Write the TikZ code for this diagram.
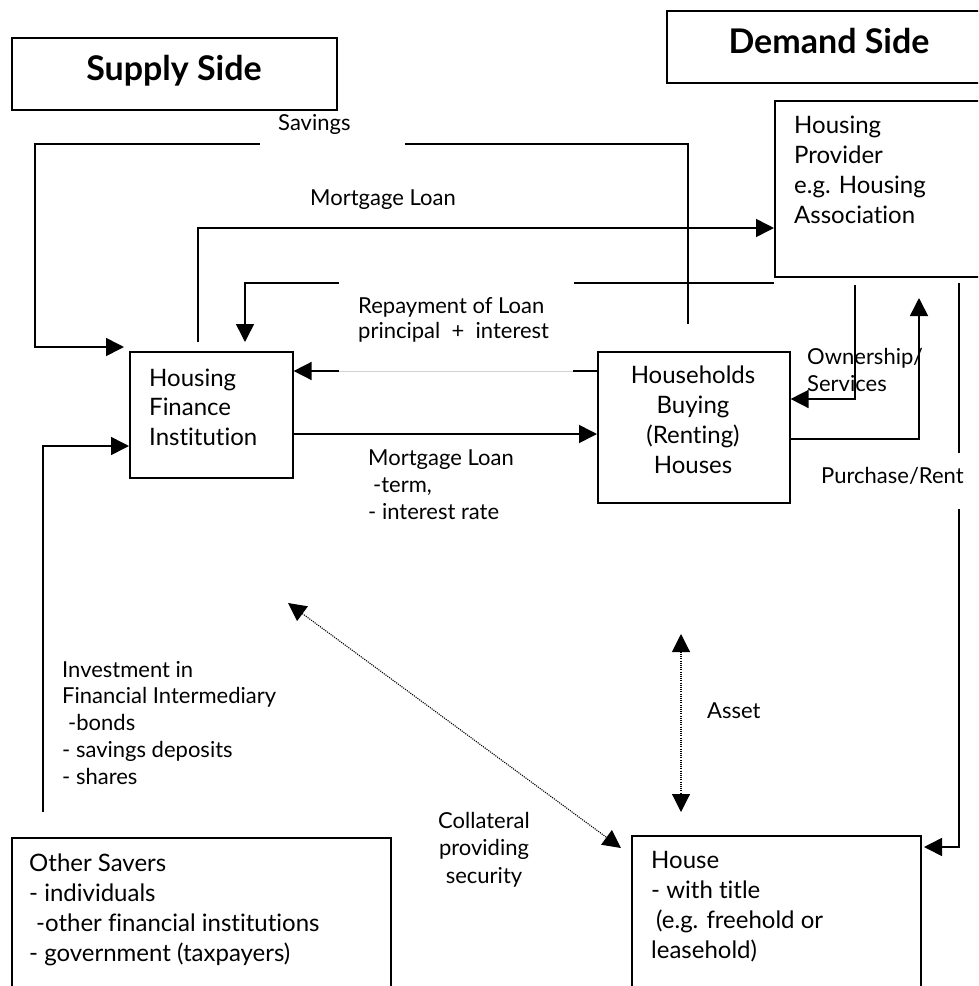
\documentclass[tikz,border=0pt]{standalone}
\usepackage{fontspec}
\setmainfont{Lato}[Ligatures={NoCommon}]
\usetikzlibrary{arrows.meta}
\begin{document}
\begin{tikzpicture}[x=1pt,y=-1pt,
  box/.style={draw, line width=1.6pt, inner sep=0pt, anchor=north west},
  lbl/.style={inner sep=0pt, anchor=base west, align=left, font=\fontsize{22}{26.7}\selectfont},
  btxt/.style={inner sep=0pt, anchor=base west, align=left, font=\fontsize{24}{30}\selectfont},
  head/.style={inner sep=0pt, anchor=base, font=\bfseries\fontsize{34}{40}\selectfont},
  conn/.style={line width=1.6pt},
  tip/.style={-{Triangle[length=18pt,width=18pt]}},
  dots/.style={line width=1.1pt, dash pattern=on 1.1pt off 1.1pt,
     {Triangle[length=18pt,width=18pt]}-{Triangle[length=18pt,width=18pt]}}
]
\useasboundingbox (0,0) rectangle (978,986);
\clip (0,0) rectangle (978,986);
\fill[white] (0,0) rectangle (978,986);

% boxes
\node[box, minimum width=325pt, minimum height=72pt] (sup) at (11,37) {};
\node[box, minimum width=330pt, minimum height=72pt] (dem) at (666,10) {};
\node[box, minimum width=230pt, minimum height=176pt] (hp) at (774,100) {};
\node[box, minimum width=163pt, minimum height=126pt] (hfi) at (129,351) {};
\node[box, minimum width=192pt, minimum height=151pt] (hh) at (597,351) {};
\node[box, minimum width=379pt, minimum height=180pt] (os) at (11,837) {};
\node[box, minimum width=289pt, minimum height=180pt] (hs) at (631,835) {};

% box texts (base anchor = baseline of the last line)
\node[head] (supt) at (174,80) {Supply Side};
\node[head] (demt) at (829,53) {Demand Side};
\node[btxt] (hpt) at (794,223) {Housing\\Provider\\e.g. Housing\\Association};
\node[btxt, font=\fontsize{24}{29.5}\selectfont] (hfit) at (149,445) {Housing\\Finance\\Institution};
\node[btxt, anchor=base, align=center] (hht) at (693,473) {Households\\Buying\\(Renting)\\Houses};
\node[btxt] (ost) at (29,961) {Other Savers\\- individuals\\\hspace*{7pt}-other financial institutions\\- government (taxpayers)};
\node[btxt] (hst) at (651,958) {House\\- with title\\\hspace*{5pt}(e.g. freehold or\\leasehold)};

% labels
\node[lbl] (savl) at (278,130) {Savings};
\node[lbl] (mlu) at (310,205) {Mortgage Loan};
\node[lbl, font=\fontsize{22}{25}\selectfont] (repl) at (358,338) {Repayment of Loan\\principal \ + \ interest};
\node[lbl, font=\fontsize{22}{27}\selectfont] (mll) at (368,519) {Mortgage Loan\\\hspace*{5pt}-term,\\- interest rate};
\node[lbl, font=\fontsize{22}{27}\selectfont] (own) at (807,391) {Ownership/\\Services};
\node[lbl] (pur) at (821,483) {Purchase/Rent};
\node[lbl] (inv) at (62,784) {Investment in\\Financial Intermediary\\\hspace*{6pt}-bonds\\- savings deposits\\- shares};
\node[lbl, anchor=base, align=center, font=\fontsize{22}{27.5}\selectfont] (col) at (484,883) {Collateral\\providing\\security};
\node[lbl] (ast) at (707,718) {Asset};

% Savings
\coordinate (sv0) at (688,324);
\coordinate (sv1) at (688,144);
\coordinate (sv2) at (405,144);
\coordinate (sv3) at (260,144);
\coordinate (sv4) at (35,144);
\coordinate (sv5) at (35,347);
\coordinate (sv6) at (124,347);
\draw[conn] (sv0) -- (sv1) -- (sv2);
\draw[conn,tip] (sv3) -- (sv4) -- (sv5) -- (sv6);

% Mortgage loan (upper)
\coordinate (mu0) at (198,342);
\draw[conn,tip] (mu0) |- (hp.west |- 0,228);

% Repayment
\coordinate (rp0) at (hp.west |- 0,283);
\coordinate (rp1) at (574,283);
\coordinate (rp2) at (339,283);
\coordinate (rp3) at (245,283);
\coordinate (rp4) at (245,342);
\draw[conn] (rp0) -- (rp1);
\draw[conn,tip] (rp2) -- (rp3) -- (rp4);

% Households -> HFI
\coordinate (hq1) at (573,371);
\coordinate (hq2) at (339,371);
\draw[conn] (hh.west |- 0,371) -- (hq1);
\draw[line width=1pt, black!18] (hq1) -- (hq2);
\draw[conn,tip] (hq2) -- (hfi.east |- 0,371);

% HFI -> Households
\draw[conn,tip] (hfi.east |- 0,434) -- (hh.west |- 0,434);

% Ownership/Services
\coordinate (ow0) at (855,285);
\draw[conn,tip] (ow0) |- (hh.east |- 0,399);

% Purchase/Rent
\coordinate (pr1) at (919,298);
\draw[conn,tip] (hh.east |- 0,439) -| (pr1);

% right vertical to House
\coordinate (rv0) at (959,283);
\coordinate (rv1) at (959,453);
\coordinate (rv2) at (959,509);
\coordinate (rv3) at (959,847);
\coordinate (rv4) at (924,847);
\draw[conn] (rv0) -- (rv1);
\draw[conn,tip] (rv2) -- (rv3) -- (rv4);

% Investment
\coordinate (iv0) at (43,812);
\draw[conn,tip] (iv0) |- (hfi.west |- 0,446);

% Collateral
\coordinate (c0) at (288,603);
\coordinate (c1) at (621,848);
\draw[dots] (c0) -- (c1);

% Asset
\coordinate (a0) at (681,634);
\coordinate (a1) at (681,812);
\draw[dots] (a0) -- (a1);
\end{tikzpicture}
\end{document}
